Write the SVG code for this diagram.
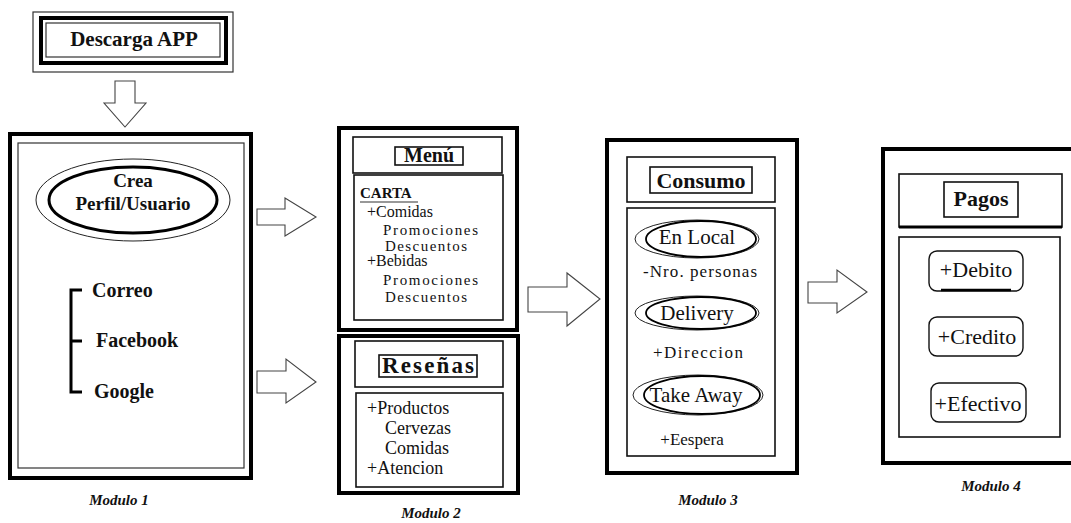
<svg xmlns="http://www.w3.org/2000/svg" width="1071" height="523" viewBox="0 0 1071 523">
<style>
.bg{fill:#fff}
.thick{fill:#fff;stroke:#000;stroke-width:4}
.thin{fill:#fff;stroke:#333;stroke-width:1.2}
.mid{fill:#fff;stroke:#111;stroke-width:1.6}
.arrow{fill:#fff;stroke:#444;stroke-width:1.1;stroke-linejoin:miter}
text{font-family:"Liberation Serif","DejaVu Serif",serif;fill:#111}
.b{font-weight:bold}
.mod{font-weight:bold;font-style:italic;font-size:15px}
.ell1{fill:none;stroke:#222;stroke-width:1}
.ell2{fill:none;stroke:#000;stroke-width:1.8}
.pill{fill:#fff;stroke:#111;stroke-width:1.4}
</style>
<rect class="bg" x="0" y="0" width="1071" height="523"/>

<g id="connectors">
  <polygon class="arrow" points="115,81 135,81 135,103 146,103 125,127 104,103 115,103"/>
  <polygon class="arrow" points="257,209 285,209 285,198 316,217 285,236 285,225 257,225"/>
  <polygon class="arrow" points="257,371 286,371 286,359 316,382 286,403 286,393 257,393"/>
  <polygon class="arrow" points="528,287 567,287 567,273 600,299 567,326 567,312 528,312"/>
  <polygon class="arrow" points="808,282 837,282 837,270 867,292 837,313 837,303 808,303"/>
</g>

<g id="descarga">
  <rect class="thin" x="33" y="12" width="200" height="60"/>
  <rect class="thick" x="41" y="18" width="185" height="45"/>
  <rect class="thin" x="46" y="23" width="174" height="34"/>
  <text class="b" x="134" y="46" font-size="21" text-anchor="middle">Descarga APP</text>
</g>

<g id="modulo1">
  <rect class="thick" x="10" y="134" width="241" height="344"/>
  <rect class="thin" x="18" y="143" width="226" height="325"/>
  <ellipse class="ell1" cx="133" cy="200" rx="97" ry="41"/>
  <ellipse cx="133" cy="200" rx="84" ry="33" fill="none" stroke="#000" stroke-width="3"/>
  <text class="b" x="133" y="187" font-size="19" text-anchor="middle">Crea</text>
  <text class="b" x="133" y="210" font-size="19" text-anchor="middle">Perfil/Usuario</text>
  <path d="M82,290 H71 V392 H82 M71,341 H82" fill="none" stroke="#000" stroke-width="3"/>
  <text class="b" x="92" y="297" font-size="20">Correo</text>
  <text class="b" x="96" y="347" font-size="20">Facebook</text>
  <text class="b" x="94" y="398" font-size="20">Google</text>
  <text class="mod" x="119" y="505" text-anchor="middle">Modulo 1</text>
</g>

<g id="menu">
  <rect class="thick" x="339" y="128" width="178" height="202"/>
  <rect class="mid" x="353" y="137" width="149" height="36"/>
  <rect class="mid" x="395" y="147" width="68" height="18"/>
  <text class="b" x="429" y="162" font-size="20" text-anchor="middle">Menú</text>
  <rect class="mid" x="354" y="175" width="149" height="145"/>
  <text class="b" x="360" y="198" font-size="15">CARTA</text>
  <line x1="360" y1="202" x2="418" y2="202" stroke="#333" stroke-width="1.2"/>
  <text x="367" y="217" font-size="16">+Comidas</text>
  <text x="383" y="235" font-size="15" textLength="95" lengthAdjust="spacing">Promociones</text>
  <text x="385" y="251" font-size="15" textLength="82" lengthAdjust="spacing">Descuentos</text>
  <text x="367" y="266" font-size="16">+Bebidas</text>
  <text x="383" y="285" font-size="15" textLength="95" lengthAdjust="spacing">Promociones</text>
  <text x="385" y="302" font-size="15" textLength="82" lengthAdjust="spacing">Descuentos</text>
</g>

<g id="resenas">
  <rect class="thick" x="339" y="336" width="179" height="157"/>
  <rect class="mid" x="355" y="341" width="148" height="46"/>
  <rect class="mid" x="379" y="355" width="98" height="22"/>
  <text class="b" x="428" y="373" font-size="23" text-anchor="middle" textLength="92" lengthAdjust="spacing">Reseñas</text>
  <rect class="mid" x="356" y="393" width="147" height="94"/>
  <text x="367" y="414" font-size="18">+Productos</text>
  <text x="385" y="434" font-size="18">Cervezas</text>
  <text x="385" y="454" font-size="18">Comidas</text>
  <text x="367" y="474" font-size="18">+Atencion</text>
  <text class="mod" x="431" y="518" text-anchor="middle">Modulo 2</text>
</g>

<g id="modulo3">
  <rect class="thick" x="607" y="140" width="190" height="333"/>
  <rect class="mid" x="627" y="157" width="148" height="45"/>
  <rect class="mid" x="650" y="167" width="102" height="26"/>
  <text class="b" x="701" y="188" font-size="22" text-anchor="middle">Consumo</text>
  <rect class="mid" x="627" y="208" width="148" height="248"/>
  <ellipse class="ell1" cx="697" cy="239" rx="62" ry="19"/>
  <ellipse class="ell2" cx="701" cy="239" rx="55" ry="18"/>
  <text x="697" y="244" font-size="21" text-anchor="middle">En Local</text>
  <text x="700" y="277" font-size="17" text-anchor="middle" textLength="114" lengthAdjust="spacing">-Nro. personas</text>
  <ellipse class="ell1" cx="697" cy="313" rx="62" ry="17"/>
  <ellipse class="ell2" cx="701" cy="313" rx="55" ry="16"/>
  <text x="697" y="320" font-size="21" text-anchor="middle">Delivery</text>
  <text x="698" y="358" font-size="17" text-anchor="middle" textLength="90" lengthAdjust="spacing">+Direccion</text>
  <ellipse class="ell1" cx="698" cy="395" rx="65" ry="20"/>
  <ellipse class="ell2" cx="702" cy="395" rx="58" ry="19"/>
  <text x="696" y="402" font-size="21" text-anchor="middle">Take Away</text>
  <text x="692" y="445" font-size="17" text-anchor="middle">+Eespera</text>
  <text class="mod" x="708" y="505" text-anchor="middle">Modulo 3</text>
</g>

<g id="modulo4">
  <rect class="thick" x="883" y="149" width="200" height="314"/>
  <rect class="mid" x="899" y="174" width="163" height="53"/>
  <line x1="899" y1="227" x2="1062" y2="227" stroke="#000" stroke-width="3"/>
  <rect class="mid" x="944" y="182" width="74" height="35"/>
  <text class="b" x="981" y="206" font-size="22" text-anchor="middle">Pagos</text>
  <rect class="mid" x="899" y="237" width="161" height="200"/>
  <rect class="pill" x="929" y="251" width="94" height="40" rx="8"/>
  <line x1="941" y1="290" x2="1011" y2="290" stroke="#000" stroke-width="2.5"/>
  <text x="976" y="277" font-size="22" text-anchor="middle">+Debito</text>
  <rect class="pill" x="929" y="317" width="94" height="39" rx="8"/>
  <text x="977" y="344" font-size="22" text-anchor="middle">+Credito</text>
  <rect class="pill" x="931" y="383" width="95" height="39" rx="8"/>
  <text x="978" y="411" font-size="22" text-anchor="middle">+Efectivo</text>
  <text class="mod" x="991" y="491" text-anchor="middle">Modulo 4</text>
</g>
</svg>
